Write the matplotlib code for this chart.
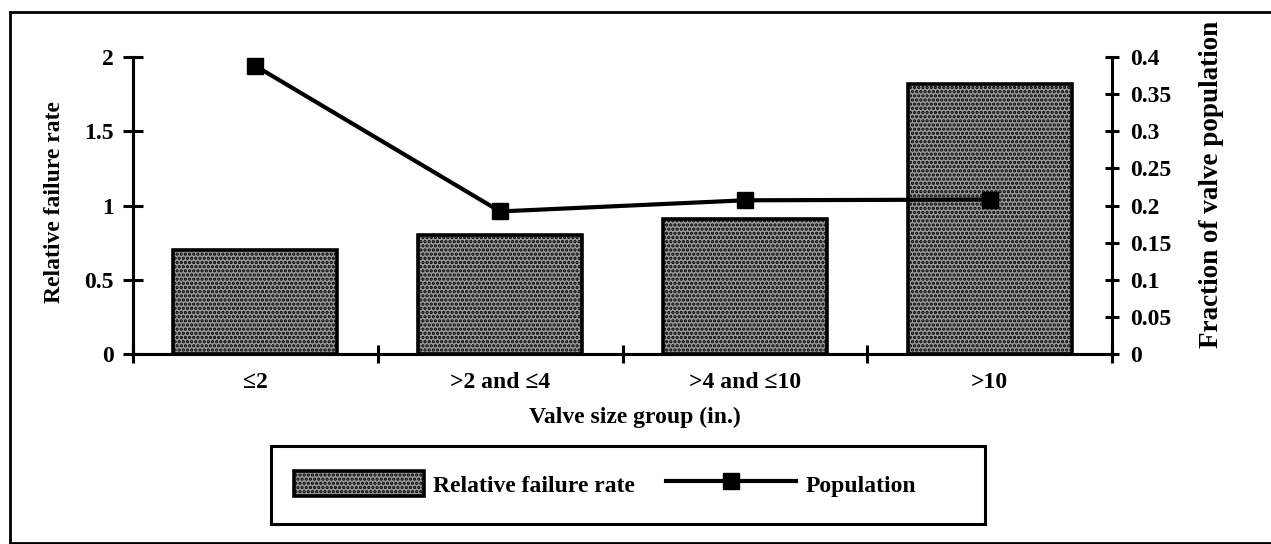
import matplotlib.pyplot as plt
from matplotlib.lines import Line2D
from matplotlib.patches import Patch, Rectangle

# values
categories = ["≤2", ">2 and ≤4", ">4 and ≤10", ">10"]
failure_rate = [0.70, 0.80, 0.91, 1.82]
population = [0.388, 0.192, 0.207, 0.208]
left_ticks = [0, 0.5, 1, 1.5, 2]
right_ticks = [0, 0.05, 0.1, 0.15, 0.2, 0.25, 0.3, 0.35, 0.4]

plt.rcParams["font.family"] = ["Liberation Serif", "DejaVu Serif"]
plt.rcParams["font.size"] = 17
plt.rcParams["font.weight"] = "bold"
plt.rcParams["hatch.linewidth"] = 1.6

bar_face = "#9a9a9a"

fig = plt.figure(figsize=(12.71, 5.44), dpi=100)
ax = fig.add_axes([133 / 1271, 1 - 354 / 544, (1112 - 133) / 1271, (354 - 57) / 544])

centers = [i + 0.5 for i in range(len(categories))]
ax.bar(centers, failure_rate, width=0.67, facecolor=bar_face, edgecolor="black",
       hatch="....", linewidth=2.6)
ax.set_xlim(0, len(categories))
ax.set_ylim(0, 2)
ax.set_yticks(left_ticks)
ax.set_yticklabels(["%g" % t for t in left_ticks])
ax.set_xticks(centers)
ax.set_xticklabels(categories)
ax.set_xticks(range(len(categories) + 1), minor=True)
ax.tick_params(axis="x", which="major", length=0, pad=13)
ax.tick_params(axis="x", which="minor", direction="inout", length=13, width=2.2)
ax.tick_params(axis="y", direction="inout", length=14, width=2.2, pad=7)

ax2 = ax.twinx()
ax2.plot(centers, population, color="black", linewidth=3, marker="s", markersize=12)
ax2.set_ylim(0, 0.4)
ax2.set_yticks(right_ticks)
ax2.set_yticklabels(["%g" % t for t in right_ticks])
ax2.tick_params(axis="y", direction="inout", length=10, width=2.2, pad=8)

for a in (ax, ax2):
    a.spines["top"].set_visible(False)
    for s in a.spines.values():
        s.set_linewidth(2.2)
ax.spines["right"].set_visible(False)

fig.text(55 / 1271, 1 - 202 / 544, "Relative failure rate", rotation=90, ha="center", va="center")
fig.text(1212 / 1271, 1 - 184 / 544, "Fraction of valve population", rotation=90,
         ha="center", va="center", fontsize=19.5)
fig.text(635 / 1271, 1 - 417 / 544, "Valve size group (in.)", ha="center", va="center")

# outer frame of the scanned figure
frame_kw = dict(color="black", linewidth=2, transform=fig.transFigure)
fig.add_artist(Line2D([10 / 1271, 10 / 1271], [1 - 12 / 544, 1 - 543 / 544], **frame_kw))
fig.add_artist(Line2D([10 / 1271, 1.0], [1 - 12 / 544, 1 - 12 / 544], **frame_kw))
fig.add_artist(Line2D([10 / 1271, 1.0], [1 - 543 / 544, 1 - 543 / 544], **frame_kw))

# legend box
fig.add_artist(Rectangle((271 / 1271, 1 - 524 / 544), (985 - 271) / 1271, (524 - 446) / 544,
                         transform=fig.transFigure, fill=False, edgecolor="black", linewidth=2.2))
handles = [
    Patch(facecolor=bar_face, edgecolor="black", hatch="....", linewidth=2.6),
    Line2D([], [], color="black", linewidth=3, marker="s", markersize=12),
]
fig.legend(handles, ["Relative failure rate", "Population"], loc="center left",
           bbox_to_anchor=(294 / 1271, 1 - 484 / 544), ncol=2, frameon=False,
           handlelength=5.5, handleheight=1.2, handletextpad=0.4, columnspacing=1.3,
           borderpad=0, borderaxespad=0)

fig.savefig("out.png", dpi=100)
